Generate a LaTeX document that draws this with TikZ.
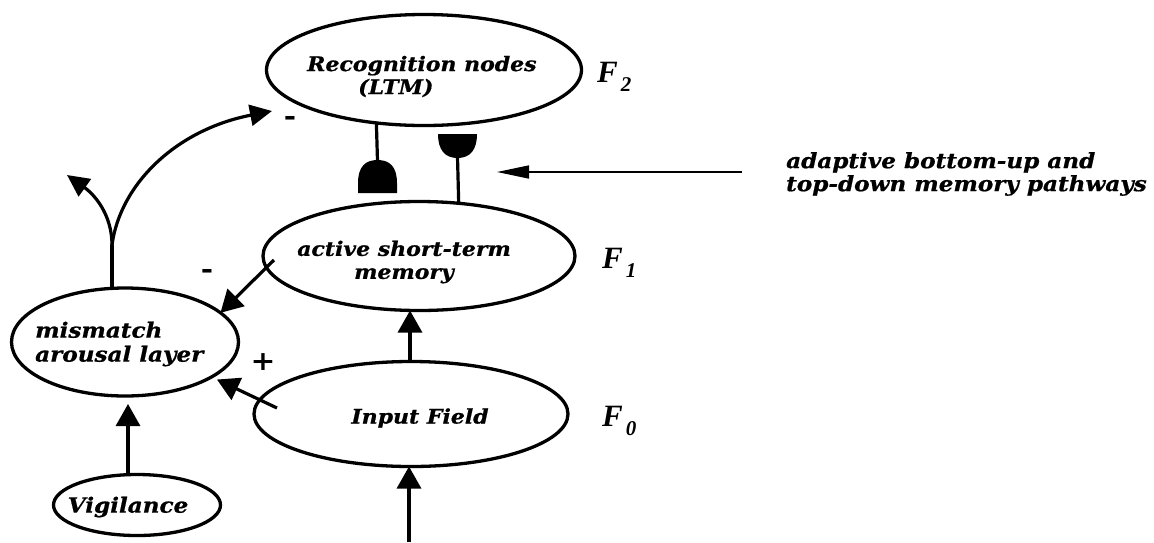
\documentclass[tikz,border=0pt]{standalone}
\usepackage{fontspec}
\setmainfont[FakeStretch=1.1,BoldItalicFeatures={FakeBold=0.8}]{DejaVu Serif}
\newfontfamily\flabelfont{Liberation Serif}
\usetikzlibrary{arrows.meta,shapes.geometric,calc}

% layer name: italic F with a lowered index
\newcommand\flayer[1]{{\flabelfont\bfseries\itshape\fontsize{31}{31}\selectfont F\kern3pt\raisebox{-9pt}{\fontsize{21}{21}\selectfont #1}}}

\begin{document}
\begin{tikzpicture}[x=1pt,y=-1pt,
  layer/.style={draw,ellipse,line width=3.3pt,inner sep=0pt,outer sep=0pt},
  lbl/.style={font=\fontsize{20}{23}\selectfont\bfseries\itshape,align=left,inner sep=0pt},
  sign/.style={font=\fontsize{27}{27}\selectfont\bfseries,inner sep=0pt},
  flbl/.style={anchor=base west,inner sep=0pt},
  conn/.style={line width=3.2pt},
  arr/.style={line width=3.2pt,-{Triangle[length=22pt,width=24pt]}},
  carr/.style={line width=3.2pt,-{Triangle[length=22pt,width=21pt]}},
  note arrow/.style={line width=1.6pt,-{Triangle[length=32pt,width=13pt]}}
]
\useasboundingbox (0,0) rectangle (1154,542);

% the five fields
\node[layer,minimum width=315pt,minimum height=111pt] (rec) at (424,70) {};
\node[layer,minimum width=312pt,minimum height=109pt] (stm) at (419,256) {};
\node[layer,minimum width=314pt,minimum height=105pt] (in) at (411,414) {};
\node[layer,minimum width=227pt,minimum height=108pt] (mis) at (125,342) {};
\node[layer,minimum width=167pt,minimum height=61pt] (vig) at (137,505) {};

% field texts
\node[lbl,anchor=west] (rec-txt) at (307,76.5) {Recognition nodes\\\hspace*{51pt}(LTM)};
\node[lbl,align=center] (stm-txt) at (404,262) {active short-term\\memory};
\node[lbl] (in-txt) at (420,418) {Input Field};
\node[lbl,anchor=west,font=\fontsize{21}{24}\selectfont\bfseries\itshape] (mis-txt) at (35,344) {mismatch\\arousal layer};
\node[lbl,font=\fontsize{21}{24}\selectfont\bfseries\itshape] (vig-txt) at (128,507) {Vigilance};

% layer names
\node[flbl] (f2) at (597,82) {\flayer{2}};
\node[flbl] (f1) at (602,268) {\flayer{1}};
\node[flbl] (f0) at (602,426) {\flayer{0}};

% adaptive pathways: bottom-up and top-down synapses
\coordinate (dome-top) at (377.5,161);
\coordinate (cup-bot) at (457.5,157);
\draw[conn] (rec.228.7) -- (dome-top);
\fill (358,193) -- (358,183) .. controls (358,166) and (366,160) .. (377.5,160)
      .. controls (389,160) and (397,166) .. (397,183) -- (397,193) -- cycle;
\draw[conn] (stm.53.6) -- (cup-bot);
\fill (438,134) -- (477,134) .. controls (477,150) and (470,158) .. (457.5,158)
      .. controls (445,158) and (438,150) .. (438,134) -- cycle;

% pathway annotation
\node[lbl,anchor=west,font=\fontsize{21}{23}\selectfont\bfseries\itshape] (note) at (786,174) {adaptive bottom-up and\\top-down memory pathways};
\coordinate (pw-tail) at (742,172);
\coordinate (pw-tip) at (497,172);
\draw[note arrow] (pw-tail) -- (pw-tip);

% feed-forward input
\coordinate (src) at (409,542);
\draw[arr] (src) -- (src |- in.south);
\draw[arr] ([xshift=-1pt]in.north) -- ([xshift=-1pt]in.north |- stm.south);

% excitatory and inhibitory inputs to the arousal layer
\draw[arr] ($(stm.west)+(11,4)$) -- (mis.17);
\draw[arr,shorten >=6pt] ($(in.west)+(23,-6)$) -- (mis.-22);
\node[sign] (minus1) at (207,274) {-};
\node[sign] (plus1) at (263,362) {+};

% vigilance
\draw[arr,shorten >=8pt] ([xshift=-9pt]vig.north) -- ([xshift=-9pt]vig.north |- mis.south);

% arousal output: reset signal to F2 and a second branch
\coordinate (split) at (112,245);
\coordinate (reset-tip) at (272,111);
\coordinate (out-tip) at (67,175);
\draw[conn] (split |- mis.north) -- (split);
\draw[carr] (split) .. controls (120,185) and (175,130) .. (reset-tip);
\draw[carr] (split) .. controls (112,215) and (95,195) .. (out-tip);
\node[sign] (minus2) at (290,121) {-};
\end{tikzpicture}
\end{document}
